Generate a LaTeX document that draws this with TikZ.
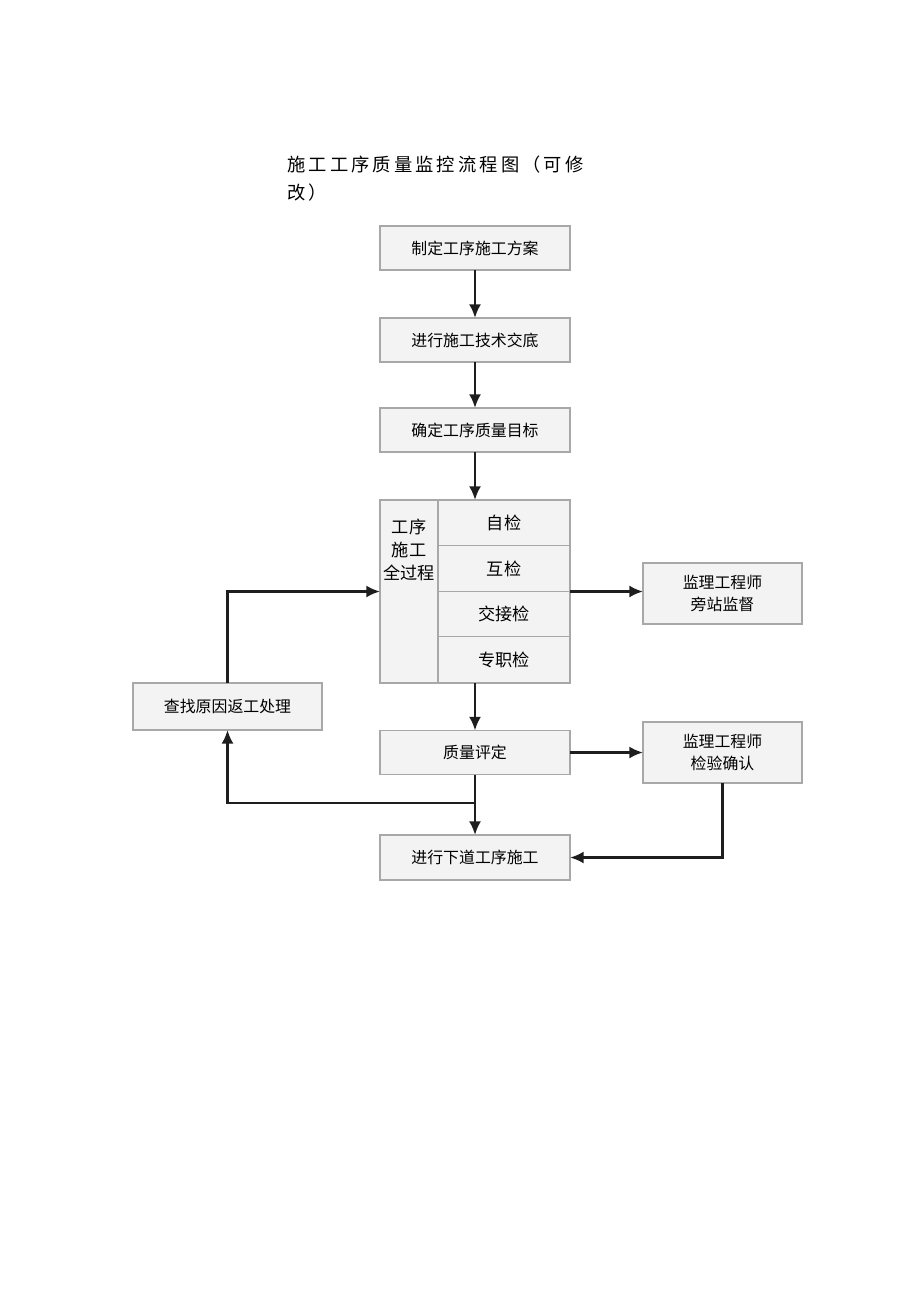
\documentclass[tikz,border=0pt]{standalone}
\usepackage{fontspec}
\setmainfont{Noto Sans CJK SC}
\usepackage{xcolor}
\usetikzlibrary{arrows.meta,positioning}
\definecolor{boxline}{HTML}{A8A8A8}
\definecolor{boxfill}{HTML}{F3F3F3}
\definecolor{arrowcol}{HTML}{1E1E1E}

\begin{document}
\begin{tikzpicture}[
    x=0.025cm, y=-0.025cm,
    node distance=0pt,
    box/.style={rectangle,draw=boxline,fill=boxfill,line width=0.9pt,align=center,outer sep=0pt,minimum width=4.75cm,minimum height=1.1cm,font=\fontsize{11.3pt}{15pt}\selectfont},
    cell/.style={box,minimum width=3.3cm,minimum height=1.14cm,font=\fontsize{12.2pt}{15pt}\selectfont},
    side/.style={box,minimum width=3.975cm,minimum height=1.525cm,font=\fontsize{11.3pt}{15.5pt}\selectfont},
    arrow/.style={-{Latex[length=3.4mm,width=3mm]},line width=1.7pt,draw=arrowcol}
]
\useasboundingbox (0,0) rectangle (920,1301);

% title
\node[anchor=west,inner sep=0pt,font=\fontsize{13pt}{16pt}\addfontfeature{LetterSpace=17}\selectfont] (title) at (287,165) {施工工序质量监控流程图（可修};
\node[anchor=west,inner sep=0pt,font=\fontsize{13pt}{16pt}\addfontfeature{LetterSpace=17}\selectfont] (title2) at (287,193) {改）};

% main chain
\node[box] (plan) at (475,248) {制定工序施工方案};
\node[box] (brief) at (475,340) {进行施工技术交底};
\node[box] (goal) at (475,430) {确定工序质量目标};

% whole-process block
\node[box,minimum width=4.75cm,minimum height=4.575cm] (proc) at (475,591.5) {};
\node[box,minimum width=1.45cm,minimum height=4.575cm] (col) at (409,591.5) {};
\node[align=center,inner sep=0pt,font=\fontsize{12.2pt}{16.3pt}\selectfont] (coltext) at (409,550) {工序\\施工\\全过程};
\node[cell,anchor=north west] (self) at (438,500) {自检};
\node[cell,below=of self] (mutual) {互检};
\node[cell,below=of mutual] (handover) {交接检};
\node[cell,below=of handover,minimum height=1.155cm] (special) {专职检};

\node[box] (assess) at (475,752.5) {质量评定};
\node[box,minimum height=1.125cm] (next) at (475,857.5) {进行下道工序施工};

% side boxes
\node[side] (watch) at (722.5,593.5) {监理工程师\\旁站监督};
\node[side] (verify) at (722.5,752.5) {监理工程师\\检验确认};
\node[box,minimum width=4.725cm,minimum height=1.175cm] (rework) at (227.5,706.5) {查找原因返工处理};

\coordinate (branch) at (475,803);

\draw[arrow] (plan) -- (brief);
\draw[arrow] (brief) -- (goal);
\draw[arrow] (goal) -- (proc);
\draw[arrow] (proc.east) -- (proc.east -| watch.west);
\draw[arrow] (proc) -- (assess);
\draw[arrow] (assess.east) -- (assess.east -| verify.west);
\draw[arrow] (assess) -- (next);
\draw[arrow] (branch) -| (rework);
\draw[arrow] (rework) |- (proc.west);
\draw[arrow] (verify) |- (next);
\end{tikzpicture}
\end{document}
